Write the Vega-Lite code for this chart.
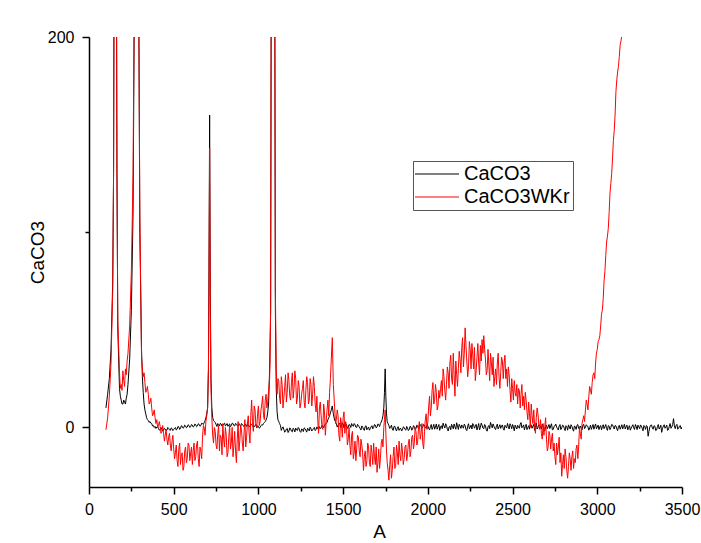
{
  "$schema": "https://vega.github.io/schema/vega-lite/v6.json",
  "width": 593,
  "height": 450,
  "autosize": "none",
  "padding": {"left": 89, "top": 37, "right": 19, "bottom": 56},
  "background": "white",
  "config": {
    "view": {"stroke": null},
    "font": "Liberation Sans",
    "axis": {
      "domainColor": "black", "domainWidth": 1.5, "tickColor": "black", "tickWidth": 1.5,
      "labelColor": "black", "labelFont": "Liberation Sans", "labelFontSize": 16,
      "titleFont": "Liberation Sans", "titleFontSize": 19, "titleFontWeight": "normal", "titleColor": "black",
      "grid": false
    }
  },
  "data": {"values": [
    {"A":100,"CaCO3":10,"CaCO3WKr":-1.2},
    {"A":110,"CaCO3":17,"CaCO3WKr":5},
    {"A":120,"CaCO3":25,"CaCO3WKr":16},
    {"A":130,"CaCO3":40,"CaCO3WKr":33},
    {"A":140,"CaCO3":75,"CaCO3WKr":70},
    {"A":145,"CaCO3":130,"CaCO3WKr":130},
    {"A":150,"CaCO3":300,"CaCO3WKr":300},
    {"A":155,"CaCO3":420,"CaCO3WKr":420},
    {"A":160,"CaCO3":300,"CaCO3WKr":300},
    {"A":165,"CaCO3":130,"CaCO3WKr":130},
    {"A":170,"CaCO3":50,"CaCO3WKr":55},
    {"A":180,"CaCO3":20,"CaCO3WKr":28},
    {"A":185,"CaCO3":16,"CaCO3WKr":20},
    {"A":190,"CaCO3":14,"CaCO3WKr":22},
    {"A":195,"CaCO3":12,"CaCO3WKr":19},
    {"A":200,"CaCO3":12,"CaCO3WKr":29},
    {"A":205,"CaCO3":14,"CaCO3WKr":24},
    {"A":210,"CaCO3":13,"CaCO3WKr":21},
    {"A":215,"CaCO3":12,"CaCO3WKr":30},
    {"A":220,"CaCO3":15,"CaCO3WKr":27},
    {"A":225,"CaCO3":17,"CaCO3WKr":34},
    {"A":230,"CaCO3":22,"CaCO3WKr":38},
    {"A":240,"CaCO3":35,"CaCO3WKr":52},
    {"A":250,"CaCO3":60,"CaCO3WKr":80},
    {"A":260,"CaCO3":110,"CaCO3WKr":130},
    {"A":270,"CaCO3":250,"CaCO3WKr":260},
    {"A":275,"CaCO3":400,"CaCO3WKr":400},
    {"A":281,"CaCO3":500,"CaCO3WKr":500},
    {"A":287,"CaCO3":400,"CaCO3WKr":400},
    {"A":292,"CaCO3":250,"CaCO3WKr":250},
    {"A":300,"CaCO3":100,"CaCO3WKr":110},
    {"A":310,"CaCO3":40,"CaCO3WKr":36},
    {"A":315,"CaCO3":26,"CaCO3WKr":30},
    {"A":320,"CaCO3":18,"CaCO3WKr":26},
    {"A":325,"CaCO3":12,"CaCO3WKr":28},
    {"A":330,"CaCO3":9,"CaCO3WKr":23},
    {"A":335,"CaCO3":7,"CaCO3WKr":18},
    {"A":340,"CaCO3":5,"CaCO3WKr":19},
    {"A":345,"CaCO3":4,"CaCO3WKr":21},
    {"A":350,"CaCO3":3.5,"CaCO3WKr":17},
    {"A":355,"CaCO3":2.6,"CaCO3WKr":12},
    {"A":360,"CaCO3":3,"CaCO3WKr":13},
    {"A":365,"CaCO3":2.2,"CaCO3WKr":15},
    {"A":370,"CaCO3":2,"CaCO3WKr":10},
    {"A":375,"CaCO3":0.8,"CaCO3WKr":6},
    {"A":380,"CaCO3":1,"CaCO3WKr":7},
    {"A":385,"CaCO3":0,"CaCO3WKr":9},
    {"A":390,"CaCO3":0.5,"CaCO3WKr":5},
    {"A":395,"CaCO3":-0.5,"CaCO3WKr":2},
    {"A":400,"CaCO3":0.2,"CaCO3WKr":4},
    {"A":410,"CaCO3":-0.5,"CaCO3WKr":1},
    {"A":420,"CaCO3":-1,"CaCO3WKr":0.5},
    {"A":430,"CaCO3":-0.8,"CaCO3WKr":-2},
    {"A":440,"CaCO3":-1.5,"CaCO3WKr":-3},
    {"A":450,"CaCO3":-0.8,"CaCO3WKr":-4},
    {"A":460,"CaCO3":-1.3,"CaCO3WKr":-6},
    {"A":470,"CaCO3":-0.5,"CaCO3WKr":-5},
    {"A":480,"CaCO3":-1.5,"CaCO3WKr":-9},
    {"A":490,"CaCO3":-0.6,"CaCO3WKr":-7},
    {"A":500,"CaCO3":-1,"CaCO3WKr":-11},
    {"A":510,"CaCO3":0,"CaCO3WKr":-13},
    {"A":520,"CaCO3":-0.9,"CaCO3WKr":-17},
    {"A":530,"CaCO3":0.3,"CaCO3WKr":-11},
    {"A":540,"CaCO3":-0.5,"CaCO3WKr":-19},
    {"A":550,"CaCO3":0.6,"CaCO3WKr":-13},
    {"A":560,"CaCO3":0,"CaCO3WKr":-20},
    {"A":570,"CaCO3":0.8,"CaCO3WKr":-10},
    {"A":580,"CaCO3":0.2,"CaCO3WKr":-16},
    {"A":590,"CaCO3":1,"CaCO3WKr":-9},
    {"A":600,"CaCO3":0.4,"CaCO3WKr":-13},
    {"A":610,"CaCO3":1.2,"CaCO3WKr":-19},
    {"A":620,"CaCO3":0.6,"CaCO3WKr":-8},
    {"A":630,"CaCO3":1.4,"CaCO3WKr":-15},
    {"A":640,"CaCO3":0.8,"CaCO3WKr":-7},
    {"A":650,"CaCO3":1.6,"CaCO3WKr":-20},
    {"A":660,"CaCO3":1,"CaCO3WKr":-12},
    {"A":670,"CaCO3":2,"CaCO3WKr":-5},
    {"A":680,"CaCO3":2.5,"CaCO3WKr":0},
    {"A":690,"CaCO3":5,"CaCO3WKr":3},
    {"A":700,"CaCO3":10,"CaCO3WKr":10},
    {"A":705,"CaCO3":30,"CaCO3WKr":30},
    {"A":708,"CaCO3":80,"CaCO3WKr":70},
    {"A":712,"CaCO3":160,"CaCO3WKr":143},
    {"A":716,"CaCO3":70,"CaCO3WKr":60},
    {"A":720,"CaCO3":25,"CaCO3WKr":20},
    {"A":725,"CaCO3":10,"CaCO3WKr":5},
    {"A":730,"CaCO3":5,"CaCO3WKr":-4},
    {"A":740,"CaCO3":3,"CaCO3WKr":0},
    {"A":750,"CaCO3":1.5,"CaCO3WKr":-9},
    {"A":760,"CaCO3":2,"CaCO3WKr":-3},
    {"A":770,"CaCO3":0.8,"CaCO3WKr":-12},
    {"A":780,"CaCO3":1.8,"CaCO3WKr":-5},
    {"A":790,"CaCO3":1,"CaCO3WKr":2},
    {"A":800,"CaCO3":2.2,"CaCO3WKr":-10},
    {"A":810,"CaCO3":1.2,"CaCO3WKr":-4},
    {"A":820,"CaCO3":0.6,"CaCO3WKr":-13},
    {"A":830,"CaCO3":1.8,"CaCO3WKr":1},
    {"A":840,"CaCO3":1,"CaCO3WKr":-8},
    {"A":850,"CaCO3":2,"CaCO3WKr":-15},
    {"A":860,"CaCO3":0.8,"CaCO3WKr":-2},
    {"A":870,"CaCO3":1.6,"CaCO3WKr":-18},
    {"A":880,"CaCO3":0.6,"CaCO3WKr":3},
    {"A":890,"CaCO3":1.4,"CaCO3WKr":-7},
    {"A":900,"CaCO3":2,"CaCO3WKr":-1},
    {"A":910,"CaCO3":1,"CaCO3WKr":-12},
    {"A":920,"CaCO3":1.8,"CaCO3WKr":4},
    {"A":930,"CaCO3":0.5,"CaCO3WKr":-5},
    {"A":940,"CaCO3":1.2,"CaCO3WKr":6},
    {"A":950,"CaCO3":0.4,"CaCO3WKr":-8},
    {"A":960,"CaCO3":1.5,"CaCO3WKr":14},
    {"A":970,"CaCO3":0.2,"CaCO3WKr":-2},
    {"A":980,"CaCO3":1,"CaCO3WKr":9},
    {"A":990,"CaCO3":-0.3,"CaCO3WKr":0},
    {"A":1000,"CaCO3":0.6,"CaCO3WKr":11},
    {"A":1010,"CaCO3":0,"CaCO3WKr":3},
    {"A":1020,"CaCO3":1.5,"CaCO3WKr":12},
    {"A":1030,"CaCO3":2,"CaCO3WKr":6},
    {"A":1040,"CaCO3":3,"CaCO3WKr":14},
    {"A":1050,"CaCO3":5,"CaCO3WKr":10},
    {"A":1060,"CaCO3":12,"CaCO3WKr":19},
    {"A":1066,"CaCO3":30,"CaCO3WKr":25},
    {"A":1069,"CaCO3":45,"CaCO3WKr":35},
    {"A":1072,"CaCO3":60,"CaCO3WKr":60},
    {"A":1075,"CaCO3":200,"CaCO3WKr":200},
    {"A":1080,"CaCO3":350,"CaCO3WKr":350},
    {"A":1086,"CaCO3":600,"CaCO3WKr":600},
    {"A":1092,"CaCO3":350,"CaCO3WKr":350},
    {"A":1097,"CaCO3":200,"CaCO3WKr":200},
    {"A":1100,"CaCO3":60,"CaCO3WKr":70},
    {"A":1105,"CaCO3":20,"CaCO3WKr":30},
    {"A":1110,"CaCO3":8,"CaCO3WKr":17},
    {"A":1120,"CaCO3":3,"CaCO3WKr":24},
    {"A":1130,"CaCO3":1,"CaCO3WKr":12},
    {"A":1140,"CaCO3":-0.5,"CaCO3WKr":22},
    {"A":1150,"CaCO3":-1,"CaCO3WKr":15},
    {"A":1160,"CaCO3":-2,"CaCO3WKr":27},
    {"A":1170,"CaCO3":-0.5,"CaCO3WKr":18},
    {"A":1180,"CaCO3":-1.8,"CaCO3WKr":24},
    {"A":1190,"CaCO3":-0.8,"CaCO3WKr":14},
    {"A":1200,"CaCO3":-2.2,"CaCO3WKr":28},
    {"A":1210,"CaCO3":-1,"CaCO3WKr":20},
    {"A":1220,"CaCO3":-0.3,"CaCO3WKr":25},
    {"A":1230,"CaCO3":-1.6,"CaCO3WKr":15},
    {"A":1240,"CaCO3":-0.6,"CaCO3WKr":21},
    {"A":1250,"CaCO3":-2.5,"CaCO3WKr":12},
    {"A":1260,"CaCO3":-1,"CaCO3WKr":20},
    {"A":1270,"CaCO3":-0.2,"CaCO3WKr":13},
    {"A":1280,"CaCO3":-1.4,"CaCO3WKr":19},
    {"A":1290,"CaCO3":-0.4,"CaCO3WKr":23},
    {"A":1300,"CaCO3":-1.8,"CaCO3WKr":14},
    {"A":1310,"CaCO3":-0.6,"CaCO3WKr":22},
    {"A":1320,"CaCO3":-1.2,"CaCO3WKr":17},
    {"A":1330,"CaCO3":0,"CaCO3WKr":21},
    {"A":1340,"CaCO3":-1,"CaCO3WKr":8},
    {"A":1350,"CaCO3":-0.5,"CaCO3WKr":4},
    {"A":1360,"CaCO3":0.4,"CaCO3WKr":10},
    {"A":1370,"CaCO3":-0.2,"CaCO3WKr":6},
    {"A":1380,"CaCO3":0.8,"CaCO3WKr":-1},
    {"A":1390,"CaCO3":1,"CaCO3WKr":8},
    {"A":1400,"CaCO3":2,"CaCO3WKr":3},
    {"A":1410,"CaCO3":4,"CaCO3WKr":14},
    {"A":1420,"CaCO3":6,"CaCO3WKr":18},
    {"A":1430,"CaCO3":9,"CaCO3WKr":35},
    {"A":1436,"CaCO3":11,"CaCO3WKr":46},
    {"A":1442,"CaCO3":7,"CaCO3WKr":22},
    {"A":1450,"CaCO3":3.5,"CaCO3WKr":10},
    {"A":1460,"CaCO3":2,"CaCO3WKr":4},
    {"A":1470,"CaCO3":1,"CaCO3WKr":6},
    {"A":1480,"CaCO3":2,"CaCO3WKr":-7},
    {"A":1490,"CaCO3":0.8,"CaCO3WKr":2},
    {"A":1500,"CaCO3":1.8,"CaCO3WKr":5},
    {"A":1510,"CaCO3":0.4,"CaCO3WKr":-3},
    {"A":1520,"CaCO3":1.5,"CaCO3WKr":0},
    {"A":1530,"CaCO3":0.2,"CaCO3WKr":-6},
    {"A":1540,"CaCO3":1.2,"CaCO3WKr":-9},
    {"A":1550,"CaCO3":2,"CaCO3WKr":-4},
    {"A":1560,"CaCO3":0.6,"CaCO3WKr":-16},
    {"A":1570,"CaCO3":1.4,"CaCO3WKr":-7},
    {"A":1580,"CaCO3":0,"CaCO3WKr":-11},
    {"A":1590,"CaCO3":1,"CaCO3WKr":-5},
    {"A":1600,"CaCO3":-0.5,"CaCO3WKr":-15},
    {"A":1610,"CaCO3":0.8,"CaCO3WKr":-9},
    {"A":1620,"CaCO3":-0.8,"CaCO3WKr":-22},
    {"A":1630,"CaCO3":0.5,"CaCO3WKr":-12},
    {"A":1640,"CaCO3":-1.2,"CaCO3WKr":-17},
    {"A":1650,"CaCO3":0.2,"CaCO3WKr":-10},
    {"A":1660,"CaCO3":-0.6,"CaCO3WKr":-20},
    {"A":1670,"CaCO3":0.9,"CaCO3WKr":-13},
    {"A":1680,"CaCO3":0,"CaCO3WKr":-8},
    {"A":1690,"CaCO3":1.2,"CaCO3WKr":-19},
    {"A":1700,"CaCO3":0.3,"CaCO3WKr":-23},
    {"A":1710,"CaCO3":1.5,"CaCO3WKr":-11},
    {"A":1720,"CaCO3":2,"CaCO3WKr":-16},
    {"A":1730,"CaCO3":4,"CaCO3WKr":-6},
    {"A":1740,"CaCO3":10,"CaCO3WKr":0},
    {"A":1744,"CaCO3":18,"CaCO3WKr":4},
    {"A":1748,"CaCO3":30,"CaCO3WKr":9},
    {"A":1752,"CaCO3":16,"CaCO3WKr":-3},
    {"A":1756,"CaCO3":7,"CaCO3WKr":-12},
    {"A":1760,"CaCO3":3,"CaCO3WKr":-18},
    {"A":1770,"CaCO3":1,"CaCO3WKr":-27},
    {"A":1780,"CaCO3":0,"CaCO3WKr":-14},
    {"A":1790,"CaCO3":-0.8,"CaCO3WKr":-22},
    {"A":1800,"CaCO3":0.5,"CaCO3WKr":-10},
    {"A":1810,"CaCO3":-1,"CaCO3WKr":-20},
    {"A":1820,"CaCO3":-0.2,"CaCO3WKr":-13},
    {"A":1830,"CaCO3":-1.5,"CaCO3WKr":-7},
    {"A":1840,"CaCO3":-0.5,"CaCO3WKr":-17},
    {"A":1850,"CaCO3":-1.2,"CaCO3WKr":-12},
    {"A":1860,"CaCO3":0,"CaCO3WKr":-16},
    {"A":1870,"CaCO3":-1.4,"CaCO3WKr":-9},
    {"A":1880,"CaCO3":-0.3,"CaCO3WKr":-14},
    {"A":1890,"CaCO3":-1,"CaCO3WKr":-6},
    {"A":1900,"CaCO3":0.2,"CaCO3WKr":-12},
    {"A":1910,"CaCO3":-0.8,"CaCO3WKr":-4},
    {"A":1920,"CaCO3":0.5,"CaCO3WKr":-8},
    {"A":1930,"CaCO3":-0.5,"CaCO3WKr":-2},
    {"A":1940,"CaCO3":0.8,"CaCO3WKr":-7},
    {"A":1950,"CaCO3":0,"CaCO3WKr":3},
    {"A":1960,"CaCO3":1,"CaCO3WKr":-3},
    {"A":1970,"CaCO3":0.2,"CaCO3WKr":-8},
    {"A":1980,"CaCO3":1.2,"CaCO3WKr":-2},
    {"A":1990,"CaCO3":-0.5,"CaCO3WKr":7},
    {"A":2000,"CaCO3":0.8,"CaCO3WKr":3},
    {"A":2010,"CaCO3":-1.2,"CaCO3WKr":16},
    {"A":2020,"CaCO3":1.5,"CaCO3WKr":10},
    {"A":2030,"CaCO3":0.1,"CaCO3WKr":23},
    {"A":2040,"CaCO3":-0.9,"CaCO3WKr":14},
    {"A":2050,"CaCO3":1.8,"CaCO3WKr":18},
    {"A":2060,"CaCO3":0.4,"CaCO3WKr":11},
    {"A":2070,"CaCO3":-1.5,"CaCO3WKr":15},
    {"A":2080,"CaCO3":0.9,"CaCO3WKr":24},
    {"A":2090,"CaCO3":2.2,"CaCO3WKr":30},
    {"A":2100,"CaCO3":-0.3,"CaCO3WKr":19},
    {"A":2110,"CaCO3":1.1,"CaCO3WKr":22},
    {"A":2120,"CaCO3":-1.8,"CaCO3WKr":28},
    {"A":2130,"CaCO3":0.6,"CaCO3WKr":33},
    {"A":2140,"CaCO3":1.6,"CaCO3WKr":25},
    {"A":2150,"CaCO3":-0.7,"CaCO3WKr":38},
    {"A":2160,"CaCO3":0.3,"CaCO3WKr":16},
    {"A":2170,"CaCO3":2.4,"CaCO3WKr":27},
    {"A":2180,"CaCO3":-1,"CaCO3WKr":30},
    {"A":2190,"CaCO3":0.7,"CaCO3WKr":35},
    {"A":2200,"CaCO3":1.3,"CaCO3WKr":41},
    {"A":2210,"CaCO3":-0.4,"CaCO3WKr":31},
    {"A":2220,"CaCO3":0.9,"CaCO3WKr":51},
    {"A":2230,"CaCO3":-1.6,"CaCO3WKr":34},
    {"A":2240,"CaCO3":1.9,"CaCO3WKr":31},
    {"A":2250,"CaCO3":0.2,"CaCO3WKr":40},
    {"A":2260,"CaCO3":-0.8,"CaCO3WKr":43},
    {"A":2270,"CaCO3":1.4,"CaCO3WKr":30},
    {"A":2280,"CaCO3":0.5,"CaCO3WKr":24},
    {"A":2290,"CaCO3":-1.3,"CaCO3WKr":36},
    {"A":2300,"CaCO3":2,"CaCO3WKr":33},
    {"A":2310,"CaCO3":0,"CaCO3WKr":42},
    {"A":2320,"CaCO3":1.2,"CaCO3WKr":45},
    {"A":2330,"CaCO3":-0.6,"CaCO3WKr":47},
    {"A":2340,"CaCO3":0.8,"CaCO3WKr":35},
    {"A":2350,"CaCO3":-1.9,"CaCO3WKr":29},
    {"A":2360,"CaCO3":1,"CaCO3WKr":32},
    {"A":2370,"CaCO3":2.6,"CaCO3WKr":38},
    {"A":2380,"CaCO3":-0.2,"CaCO3WKr":27},
    {"A":2390,"CaCO3":0.6,"CaCO3WKr":21},
    {"A":2400,"CaCO3":-1.1,"CaCO3WKr":30},
    {"A":2410,"CaCO3":1.7,"CaCO3WKr":33},
    {"A":2420,"CaCO3":0.3,"CaCO3WKr":26},
    {"A":2430,"CaCO3":-0.5,"CaCO3WKr":28},
    {"A":2440,"CaCO3":1.3,"CaCO3WKr":34},
    {"A":2450,"CaCO3":-1.4,"CaCO3WKr":33},
    {"A":2460,"CaCO3":0.4,"CaCO3WKr":25},
    {"A":2470,"CaCO3":2.1,"CaCO3WKr":21},
    {"A":2480,"CaCO3":-0.8,"CaCO3WKr":27},
    {"A":2490,"CaCO3":0.9,"CaCO3WKr":13},
    {"A":2500,"CaCO3":1.5,"CaCO3WKr":20},
    {"A":2510,"CaCO3":-1.7,"CaCO3WKr":24},
    {"A":2520,"CaCO3":0.2,"CaCO3WKr":16},
    {"A":2530,"CaCO3":1.1,"CaCO3WKr":12},
    {"A":2540,"CaCO3":-0.4,"CaCO3WKr":19},
    {"A":2550,"CaCO3":2.5,"CaCO3WKr":17},
    {"A":2560,"CaCO3":0.5,"CaCO3WKr":11},
    {"A":2570,"CaCO3":-1.2,"CaCO3WKr":9},
    {"A":2580,"CaCO3":1.6,"CaCO3WKr":14},
    {"A":2590,"CaCO3":0,"CaCO3WKr":4},
    {"A":2600,"CaCO3":-0.9,"CaCO3WKr":7},
    {"A":2610,"CaCO3":1.4,"CaCO3WKr":12},
    {"A":2620,"CaCO3":0.7,"CaCO3WKr":2},
    {"A":2630,"CaCO3":-1.5,"CaCO3WKr":0.5},
    {"A":2640,"CaCO3":2.3,"CaCO3WKr":5},
    {"A":2650,"CaCO3":0.1,"CaCO3WKr":7},
    {"A":2660,"CaCO3":1,"CaCO3WKr":-1},
    {"A":2670,"CaCO3":-0.7,"CaCO3WKr":-3},
    {"A":2680,"CaCO3":0.6,"CaCO3WKr":2},
    {"A":2690,"CaCO3":-1.8,"CaCO3WKr":0.5},
    {"A":2700,"CaCO3":1.2,"CaCO3WKr":-6},
    {"A":2710,"CaCO3":0.3,"CaCO3WKr":-10},
    {"A":2720,"CaCO3":-0.6,"CaCO3WKr":-4},
    {"A":2730,"CaCO3":1.9,"CaCO3WKr":-6},
    {"A":2740,"CaCO3":-1,"CaCO3WKr":-12},
    {"A":2750,"CaCO3":0.8,"CaCO3WKr":-15},
    {"A":2760,"CaCO3":0.2,"CaCO3WKr":-8},
    {"A":2770,"CaCO3":-1.3,"CaCO3WKr":-10},
    {"A":2780,"CaCO3":1.5,"CaCO3WKr":-18},
    {"A":2790,"CaCO3":-0.2,"CaCO3WKr":-25},
    {"A":2800,"CaCO3":0.9,"CaCO3WKr":-14},
    {"A":2810,"CaCO3":-1.6,"CaCO3WKr":-11},
    {"A":2820,"CaCO3":0.4,"CaCO3WKr":-22},
    {"A":2830,"CaCO3":1.3,"CaCO3WKr":-20},
    {"A":2840,"CaCO3":-0.8,"CaCO3WKr":-16},
    {"A":2850,"CaCO3":0.6,"CaCO3WKr":-15},
    {"A":2860,"CaCO3":-1.9,"CaCO3WKr":-21},
    {"A":2870,"CaCO3":0.2,"CaCO3WKr":-18},
    {"A":2880,"CaCO3":1.1,"CaCO3WKr":-9},
    {"A":2890,"CaCO3":-0.5,"CaCO3WKr":-10},
    {"A":2900,"CaCO3":0.7,"CaCO3WKr":-3},
    {"A":2910,"CaCO3":-1.2,"CaCO3WKr":2},
    {"A":2920,"CaCO3":1.6,"CaCO3WKr":6},
    {"A":2930,"CaCO3":0,"CaCO3WKr":9},
    {"A":2940,"CaCO3":0.9,"CaCO3WKr":12},
    {"A":2950,"CaCO3":-1.4,"CaCO3WKr":16},
    {"A":2960,"CaCO3":1.2,"CaCO3WKr":19},
    {"A":2970,"CaCO3":0.3,"CaCO3WKr":23},
    {"A":2980,"CaCO3":-0.9,"CaCO3WKr":28},
    {"A":2990,"CaCO3":1.8,"CaCO3WKr":33},
    {"A":3000,"CaCO3":0.1,"CaCO3WKr":40},
    {"A":3010,"CaCO3":-1.1,"CaCO3WKr":45},
    {"A":3020,"CaCO3":1,"CaCO3WKr":52},
    {"A":3030,"CaCO3":0.4,"CaCO3WKr":60},
    {"A":3040,"CaCO3":-0.6,"CaCO3WKr":75},
    {"A":3050,"CaCO3":1.5,"CaCO3WKr":88},
    {"A":3060,"CaCO3":-1.5,"CaCO3WKr":98},
    {"A":3070,"CaCO3":0.6,"CaCO3WKr":110},
    {"A":3080,"CaCO3":0,"CaCO3WKr":125},
    {"A":3090,"CaCO3":1.3,"CaCO3WKr":138},
    {"A":3100,"CaCO3":-0.8,"CaCO3WKr":152},
    {"A":3110,"CaCO3":0.8,"CaCO3WKr":172},
    {"A":3120,"CaCO3":-1.6,"CaCO3WKr":182},
    {"A":3130,"CaCO3":1.1,"CaCO3WKr":190},
    {"A":3140,"CaCO3":0.2,"CaCO3WKr":198},
    {"A":3150,"CaCO3":-0.7,"CaCO3WKr":207},
    {"A":3160,"CaCO3":1.6,"CaCO3WKr":220},
    {"A":3170,"CaCO3":0.3},
    {"A":3180,"CaCO3":-1.2},
    {"A":3190,"CaCO3":0.9},
    {"A":3200,"CaCO3":-0.3},
    {"A":3210,"CaCO3":1.4},
    {"A":3220,"CaCO3":-1},
    {"A":3230,"CaCO3":0.5},
    {"A":3240,"CaCO3":1.2},
    {"A":3250,"CaCO3":-0.6},
    {"A":3260,"CaCO3":0.7},
    {"A":3270,"CaCO3":-1.7},
    {"A":3280,"CaCO3":0.4},
    {"A":3290,"CaCO3":1},
    {"A":3300,"CaCO3":-4.5},
    {"A":3310,"CaCO3":0.2},
    {"A":3320,"CaCO3":1.3},
    {"A":3330,"CaCO3":-0.9},
    {"A":3340,"CaCO3":0.6},
    {"A":3350,"CaCO3":-1.3},
    {"A":3360,"CaCO3":1.5},
    {"A":3370,"CaCO3":0},
    {"A":3380,"CaCO3":-2.5},
    {"A":3390,"CaCO3":0.8},
    {"A":3400,"CaCO3":-0.4},
    {"A":3410,"CaCO3":1.2},
    {"A":3420,"CaCO3":-1.1},
    {"A":3430,"CaCO3":2},
    {"A":3440,"CaCO3":0.3},
    {"A":3450,"CaCO3":4.5},
    {"A":3460,"CaCO3":-0.6},
    {"A":3470,"CaCO3":1.6},
    {"A":3480,"CaCO3":-0.5},
    {"A":3490,"CaCO3":1},
    {"A":3500,"CaCO3":0.2},
    {"A":405,"CaCO3":0.6,"CaCO3WKr":0},
    {"A":415,"CaCO3":-1.4,"CaCO3WKr":3},
    {"A":425,"CaCO3":0,"CaCO3WKr":-3},
    {"A":435,"CaCO3":-1.8,"CaCO3WKr":1},
    {"A":445,"CaCO3":-0.4,"CaCO3WKr":-7},
    {"A":455,"CaCO3":-1.6,"CaCO3WKr":-1},
    {"A":465,"CaCO3":0,"CaCO3WKr":-9},
    {"A":475,"CaCO3":-1.2,"CaCO3WKr":-3},
    {"A":485,"CaCO3":-0.2,"CaCO3WKr":-12},
    {"A":495,"CaCO3":-1.6,"CaCO3WKr":-4},
    {"A":505,"CaCO3":-0.4,"CaCO3WKr":-16},
    {"A":515,"CaCO3":-1.3,"CaCO3WKr":-9},
    {"A":525,"CaCO3":0.5,"CaCO3WKr":-20},
    {"A":535,"CaCO3":-1,"CaCO3WKr":-8},
    {"A":545,"CaCO3":0.9,"CaCO3WKr":-14},
    {"A":555,"CaCO3":-0.4,"CaCO3WKr":-22},
    {"A":565,"CaCO3":1.2,"CaCO3WKr":-12},
    {"A":575,"CaCO3":-0.2,"CaCO3WKr":-18},
    {"A":585,"CaCO3":1.4,"CaCO3WKr":-8},
    {"A":595,"CaCO3":0,"CaCO3WKr":-17},
    {"A":605,"CaCO3":1.5,"CaCO3WKr":-10},
    {"A":615,"CaCO3":0.2,"CaCO3WKr":-12},
    {"A":625,"CaCO3":1.8,"CaCO3WKr":-17},
    {"A":635,"CaCO3":0.4,"CaCO3WKr":-9},
    {"A":645,"CaCO3":1.9,"CaCO3WKr":-16},
    {"A":655,"CaCO3":0.6,"CaCO3WKr":-10},
    {"A":665,"CaCO3":2.2,"CaCO3WKr":-16},
    {"A":675,"CaCO3":1.5,"CaCO3WKr":1},
    {"A":685,"CaCO3":3.5,"CaCO3WKr":-4},
    {"A":695,"CaCO3":7,"CaCO3WKr":6},
    {"A":735,"CaCO3":3.5,"CaCO3WKr":-8},
    {"A":745,"CaCO3":2.6,"CaCO3WKr":-2},
    {"A":755,"CaCO3":0.5,"CaCO3WKr":-11},
    {"A":765,"CaCO3":1.5,"CaCO3WKr":1},
    {"A":775,"CaCO3":2.1,"CaCO3WKr":-4},
    {"A":785,"CaCO3":0.6,"CaCO3WKr":-14},
    {"A":795,"CaCO3":1.8,"CaCO3WKr":-6},
    {"A":805,"CaCO3":0.8,"CaCO3WKr":0},
    {"A":815,"CaCO3":2,"CaCO3WKr":-15},
    {"A":825,"CaCO3":1.4,"CaCO3WKr":-5},
    {"A":835,"CaCO3":0.4,"CaCO3WKr":-11},
    {"A":845,"CaCO3":2.2,"CaCO3WKr":0},
    {"A":855,"CaCO3":1,"CaCO3WKr":-9},
    {"A":865,"CaCO3":2.1,"CaCO3WKr":-12},
    {"A":875,"CaCO3":0.9,"CaCO3WKr":-6},
    {"A":885,"CaCO3":2,"CaCO3WKr":-12},
    {"A":895,"CaCO3":0.5,"CaCO3WKr":1},
    {"A":905,"CaCO3":1.6,"CaCO3WKr":-8},
    {"A":915,"CaCO3":0.4,"CaCO3WKr":-3},
    {"A":925,"CaCO3":1.3,"CaCO3WKr":-10},
    {"A":935,"CaCO3":2,"CaCO3WKr":2},
    {"A":945,"CaCO3":0.5,"CaCO3WKr":-3},
    {"A":955,"CaCO3":1.8,"CaCO3WKr":6},
    {"A":965,"CaCO3":0.9,"CaCO3WKr":3},
    {"A":975,"CaCO3":0.3,"CaCO3WKr":11},
    {"A":985,"CaCO3":1.6,"CaCO3WKr":1},
    {"A":995,"CaCO3":0.9,"CaCO3WKr":7},
    {"A":1005,"CaCO3":-0.4,"CaCO3WKr":1},
    {"A":1015,"CaCO3":0.9,"CaCO3WKr":9},
    {"A":1025,"CaCO3":1.2,"CaCO3WKr":16},
    {"A":1035,"CaCO3":2.5,"CaCO3WKr":4},
    {"A":1045,"CaCO3":3.8,"CaCO3WKr":17},
    {"A":1055,"CaCO3":8,"CaCO3WKr":13},
    {"A":1115,"CaCO3":4,"CaCO3WKr":25},
    {"A":1125,"CaCO3":2,"CaCO3WKr":15},
    {"A":1135,"CaCO3":-1.5,"CaCO3WKr":26},
    {"A":1145,"CaCO3":0.3,"CaCO3WKr":10},
    {"A":1155,"CaCO3":-2.4,"CaCO3WKr":21},
    {"A":1165,"CaCO3":-0.8,"CaCO3WKr":13},
    {"A":1175,"CaCO3":-2.6,"CaCO3WKr":28},
    {"A":1185,"CaCO3":-0.2,"CaCO3WKr":16},
    {"A":1195,"CaCO3":-1.9,"CaCO3WKr":23},
    {"A":1205,"CaCO3":-0.4,"CaCO3WKr":15},
    {"A":1215,"CaCO3":-2.3,"CaCO3WKr":29},
    {"A":1225,"CaCO3":-1.2,"CaCO3WKr":12},
    {"A":1235,"CaCO3":0,"CaCO3WKr":24},
    {"A":1245,"CaCO3":-2,"CaCO3WKr":10},
    {"A":1255,"CaCO3":-0.8,"CaCO3WKr":17},
    {"A":1265,"CaCO3":-2.1,"CaCO3WKr":24},
    {"A":1275,"CaCO3":-0.6,"CaCO3WKr":10},
    {"A":1285,"CaCO3":-2.4,"CaCO3WKr":26},
    {"A":1295,"CaCO3":-0.9,"CaCO3WKr":12},
    {"A":1305,"CaCO3":0.2,"CaCO3WKr":25},
    {"A":1315,"CaCO3":-1.8,"CaCO3WKr":11},
    {"A":1325,"CaCO3":-0.5,"CaCO3WKr":26},
    {"A":1335,"CaCO3":-1.6,"CaCO3WKr":12},
    {"A":1345,"CaCO3":0.3,"CaCO3WKr":16},
    {"A":1355,"CaCO3":-1.2,"CaCO3WKr":-3},
    {"A":1365,"CaCO3":-0.6,"CaCO3WKr":13},
    {"A":1375,"CaCO3":1,"CaCO3WKr":0},
    {"A":1385,"CaCO3":-0.1,"CaCO3WKr":12},
    {"A":1395,"CaCO3":1.8,"CaCO3WKr":-4},
    {"A":1405,"CaCO3":2.6,"CaCO3WKr":9},
    {"A":1415,"CaCO3":5,"CaCO3WKr":6},
    {"A":1425,"CaCO3":7.5,"CaCO3WKr":25},
    {"A":1455,"CaCO3":3,"CaCO3WKr":2},
    {"A":1465,"CaCO3":0.2,"CaCO3WKr":9},
    {"A":1475,"CaCO3":2.2,"CaCO3WKr":-4},
    {"A":1485,"CaCO3":0,"CaCO3WKr":5},
    {"A":1495,"CaCO3":2.4,"CaCO3WKr":-5},
    {"A":1505,"CaCO3":-0.2,"CaCO3WKr":8},
    {"A":1515,"CaCO3":1.9,"CaCO3WKr":3},
    {"A":1525,"CaCO3":-0.5,"CaCO3WKr":-9},
    {"A":1535,"CaCO3":1.5,"CaCO3WKr":0},
    {"A":1545,"CaCO3":0,"CaCO3WKr":-14},
    {"A":1555,"CaCO3":1,"CaCO3WKr":-2},
    {"A":1565,"CaCO3":2,"CaCO3WKr":-13},
    {"A":1575,"CaCO3":0.2,"CaCO3WKr":-17},
    {"A":1585,"CaCO3":1.6,"CaCO3WKr":-4},
    {"A":1595,"CaCO3":0.3,"CaCO3WKr":-12},
    {"A":1605,"CaCO3":-1.3,"CaCO3WKr":-6},
    {"A":1615,"CaCO3":0.2,"CaCO3WKr":-13},
    {"A":1625,"CaCO3":-1.5,"CaCO3WKr":-15},
    {"A":1635,"CaCO3":0.9,"CaCO3WKr":-20},
    {"A":1645,"CaCO3":-0.4,"CaCO3WKr":-8},
    {"A":1655,"CaCO3":-1.4,"CaCO3WKr":-18},
    {"A":1665,"CaCO3":0.3,"CaCO3WKr":-9},
    {"A":1675,"CaCO3":-0.7,"CaCO3WKr":-19},
    {"A":1685,"CaCO3":1.5,"CaCO3WKr":-15},
    {"A":1695,"CaCO3":-0.2,"CaCO3WKr":-10},
    {"A":1705,"CaCO3":1.8,"CaCO3WKr":-18},
    {"A":1715,"CaCO3":0.5,"CaCO3WKr":-21},
    {"A":1725,"CaCO3":2.8,"CaCO3WKr":-8},
    {"A":1735,"CaCO3":6,"CaCO3WKr":-10},
    {"A":1765,"CaCO3":2,"CaCO3WKr":-22},
    {"A":1775,"CaCO3":-0.5,"CaCO3WKr":-19},
    {"A":1785,"CaCO3":1.2,"CaCO3WKr":-26},
    {"A":1795,"CaCO3":-1.5,"CaCO3WKr":-15},
    {"A":1805,"CaCO3":0.6,"CaCO3WKr":-21},
    {"A":1815,"CaCO3":-1.8,"CaCO3WKr":-9},
    {"A":1825,"CaCO3":0.4,"CaCO3WKr":-19},
    {"A":1835,"CaCO3":-0.6,"CaCO3WKr":-14},
    {"A":1845,"CaCO3":-1.8,"CaCO3WKr":-8},
    {"A":1855,"CaCO3":0.3,"CaCO3WKr":-19},
    {"A":1865,"CaCO3":-1,"CaCO3WKr":-10},
    {"A":1875,"CaCO3":0.5,"CaCO3WKr":-17},
    {"A":1885,"CaCO3":-1.6,"CaCO3WKr":-8},
    {"A":1895,"CaCO3":0.6,"CaCO3WKr":-15},
    {"A":1905,"CaCO3":-1.4,"CaCO3WKr":-5},
    {"A":1915,"CaCO3":0.9,"CaCO3WKr":-11},
    {"A":1925,"CaCO3":-1,"CaCO3WKr":0},
    {"A":1935,"CaCO3":1.2,"CaCO3WKr":-9},
    {"A":1945,"CaCO3":-0.8,"CaCO3WKr":0},
    {"A":1955,"CaCO3":1.4,"CaCO3WKr":-6},
    {"A":1965,"CaCO3":-0.4,"CaCO3WKr":2},
    {"A":1975,"CaCO3":1.6,"CaCO3WKr":-11},
    {"A":1985,"CaCO3":0,"CaCO3WKr":4},
    {"A":1995,"CaCO3":1.4,"CaCO3WKr":-1},
    {"A":2005,"CaCO3":-0.6,"CaCO3WKr":11},
    {"A":2015,"CaCO3":0.4,"CaCO3WKr":6},
    {"A":2025,"CaCO3":-1,"CaCO3WKr":19},
    {"A":2035,"CaCO3":1.6,"CaCO3WKr":12},
    {"A":2045,"CaCO3":0.2,"CaCO3WKr":22},
    {"A":2055,"CaCO3":-0.9,"CaCO3WKr":9},
    {"A":2065,"CaCO3":1.5,"CaCO3WKr":19},
    {"A":2075,"CaCO3":0.3,"CaCO3WKr":20},
    {"A":2085,"CaCO3":-0.6,"CaCO3WKr":16},
    {"A":2095,"CaCO3":0.8,"CaCO3WKr":26},
    {"A":2105,"CaCO3":1.9,"CaCO3WKr":14},
    {"A":2115,"CaCO3":-0.9,"CaCO3WKr":31},
    {"A":2125,"CaCO3":0.2,"CaCO3WKr":20},
    {"A":2135,"CaCO3":-1.2,"CaCO3WKr":37},
    {"A":2145,"CaCO3":0.6,"CaCO3WKr":22},
    {"A":2155,"CaCO3":1.8,"CaCO3WKr":27},
    {"A":2165,"CaCO3":-0.9,"CaCO3WKr":34},
    {"A":2175,"CaCO3":0.8,"CaCO3WKr":21},
    {"A":2185,"CaCO3":1.6,"CaCO3WKr":39},
    {"A":2195,"CaCO3":-0.5,"CaCO3WKr":28},
    {"A":2205,"CaCO3":0.4,"CaCO3WKr":46},
    {"A":2215,"CaCO3":1.7,"CaCO3WKr":38},
    {"A":2225,"CaCO3":-1,"CaCO3WKr":42},
    {"A":2235,"CaCO3":0.6,"CaCO3WKr":26},
    {"A":2245,"CaCO3":-0.7,"CaCO3WKr":44},
    {"A":2255,"CaCO3":1.2,"CaCO3WKr":30},
    {"A":2265,"CaCO3":2,"CaCO3WKr":37},
    {"A":2275,"CaCO3":-0.4,"CaCO3WKr":41},
    {"A":2285,"CaCO3":1.6,"CaCO3WKr":29},
    {"A":2295,"CaCO3":0.2,"CaCO3WKr":43},
    {"A":2305,"CaCO3":-1.2,"CaCO3WKr":27},
    {"A":2315,"CaCO3":2.2,"CaCO3WKr":34},
    {"A":2325,"CaCO3":-0.3,"CaCO3WKr":38},
    {"A":2335,"CaCO3":1.5,"CaCO3WKr":40},
    {"A":2345,"CaCO3":-1.2,"CaCO3WKr":27},
    {"A":2355,"CaCO3":0.3,"CaCO3WKr":40},
    {"A":2365,"CaCO3":-0.6,"CaCO3WKr":24},
    {"A":2375,"CaCO3":1.1,"CaCO3WKr":33},
    {"A":2385,"CaCO3":1.8,"CaCO3WKr":36},
    {"A":2395,"CaCO3":-0.5,"CaCO3WKr":26},
    {"A":2405,"CaCO3":0.9,"CaCO3WKr":22},
    {"A":2415,"CaCO3":-0.8,"CaCO3WKr":38},
    {"A":2425,"CaCO3":1.4,"CaCO3WKr":20},
    {"A":2435,"CaCO3":0.8,"CaCO3WKr":36},
    {"A":2445,"CaCO3":-0.6,"CaCO3WKr":25},
    {"A":2455,"CaCO3":1.1,"CaCO3WKr":37},
    {"A":2465,"CaCO3":-0.3,"CaCO3WKr":30},
    {"A":2475,"CaCO3":0.5,"CaCO3WKr":31},
    {"A":2485,"CaCO3":1.9,"CaCO3WKr":19},
    {"A":2495,"CaCO3":-0.6,"CaCO3WKr":25},
    {"A":2505,"CaCO3":0.4,"CaCO3WKr":14},
    {"A":2515,"CaCO3":1.2,"CaCO3WKr":18},
    {"A":2525,"CaCO3":-0.8,"CaCO3WKr":22},
    {"A":2535,"CaCO3":0.3,"CaCO3WKr":20},
    {"A":2545,"CaCO3":1.7,"CaCO3WKr":10},
    {"A":2555,"CaCO3":-0.2,"CaCO3WKr":22},
    {"A":2565,"CaCO3":1.3,"CaCO3WKr":16},
    {"A":2575,"CaCO3":0.4,"CaCO3WKr":18},
    {"A":2585,"CaCO3":-1.1,"CaCO3WKr":8},
    {"A":2595,"CaCO3":0.9,"CaCO3WKr":13},
    {"A":2605,"CaCO3":1.8,"CaCO3WKr":0},
    {"A":2615,"CaCO3":-0.4,"CaCO3WKr":6},
    {"A":2625,"CaCO3":1.6,"CaCO3WKr":9},
    {"A":2635,"CaCO3":0.2,"CaCO3WKr":-3},
    {"A":2645,"CaCO3":-0.8,"CaCO3WKr":10},
    {"A":2655,"CaCO3":1.4,"CaCO3WKr":1},
    {"A":2665,"CaCO3":0.2,"CaCO3WKr":4},
    {"A":2675,"CaCO3":1.7,"CaCO3WKr":-6},
    {"A":2685,"CaCO3":-0.9,"CaCO3WKr":-4},
    {"A":2695,"CaCO3":0.5,"CaCO3WKr":5},
    {"A":2705,"CaCO3":-0.6,"CaCO3WKr":-12},
    {"A":2715,"CaCO3":1.5,"CaCO3WKr":-2},
    {"A":2725,"CaCO3":0.8,"CaCO3WKr":-11},
    {"A":2735,"CaCO3":-1.2,"CaCO3WKr":-3},
    {"A":2745,"CaCO3":0.6,"CaCO3WKr":-8},
    {"A":2755,"CaCO3":1.7,"CaCO3WKr":-19},
    {"A":2765,"CaCO3":-0.6,"CaCO3WKr":-14},
    {"A":2775,"CaCO3":0.8,"CaCO3WKr":-5},
    {"A":2785,"CaCO3":-1.1,"CaCO3WKr":-13},
    {"A":2795,"CaCO3":1.2,"CaCO3WKr":-19},
    {"A":2805,"CaCO3":-0.4,"CaCO3WKr":-21},
    {"A":2815,"CaCO3":0.9,"CaCO3WKr":-15},
    {"A":2825,"CaCO3":-1.4,"CaCO3WKr":-26},
    {"A":2835,"CaCO3":0.2,"CaCO3WKr":-13},
    {"A":2845,"CaCO3":1.4,"CaCO3WKr":-22},
    {"A":2855,"CaCO3":-0.9,"CaCO3WKr":-12},
    {"A":2865,"CaCO3":0.8,"CaCO3WKr":-16},
    {"A":2875,"CaCO3":-1,"CaCO3WKr":-11},
    {"A":2885,"CaCO3":1.5,"CaCO3WKr":-16},
    {"A":2895,"CaCO3":0.2,"CaCO3WKr":0},
    {"A":2905,"CaCO3":-0.5,"CaCO3WKr":-6},
    {"A":2915,"CaCO3":1.2,"CaCO3WKr":4},
    {"A":2925,"CaCO3":-0.6,"CaCO3WKr":3},
    {"A":2935,"CaCO3":1.4,"CaCO3WKr":14},
    {"A":2945,"CaCO3":0.3,"CaCO3WKr":9},
    {"A":2955,"CaCO3":-0.2,"CaCO3WKr":21},
    {"A":2965,"CaCO3":-1,"CaCO3WKr":17},
    {"A":2975,"CaCO3":1.5,"CaCO3WKr":27},
    {"A":2985,"CaCO3":0.6,"CaCO3WKr":25},
    {"A":2995,"CaCO3":-0.7,"CaCO3WKr":38},
    {"A":3005,"CaCO3":1.2,"CaCO3WKr":44},
    {"A":3015,"CaCO3":0.3,"CaCO3WKr":47},
    {"A":3025,"CaCO3":-1.2,"CaCO3WKr":58},
    {"A":3035,"CaCO3":1.4,"CaCO3WKr":66},
    {"A":3045,"CaCO3":0.4,"CaCO3WKr":80},
    {"A":3055,"CaCO3":-0.6,"CaCO3WKr":95},
    {"A":3065,"CaCO3":1,"CaCO3WKr":102},
    {"A":3075,"CaCO3":-1.1,"CaCO3WKr":120},
    {"A":3085,"CaCO3":1.6,"CaCO3WKr":130},
    {"A":3095,"CaCO3":0.1,"CaCO3WKr":147},
    {"A":3105,"CaCO3":1,"CaCO3WKr":160},
    {"A":3115,"CaCO3":-0.7,"CaCO3WKr":178},
    {"A":3125,"CaCO3":0.5,"CaCO3WKr":185},
    {"A":3135,"CaCO3":-0.9,"CaCO3WKr":196},
    {"A":3145,"CaCO3":1.4,"CaCO3WKr":201},
    {"A":3155,"CaCO3":0.4,"CaCO3WKr":215},
    {"A":3165,"CaCO3":-0.8},
    {"A":3175,"CaCO3":1.2},
    {"A":3185,"CaCO3":0},
    {"A":3195,"CaCO3":-1.4},
    {"A":3205,"CaCO3":0.6},
    {"A":3215,"CaCO3":-0.2},
    {"A":3225,"CaCO3":1.5},
    {"A":3235,"CaCO3":-1.1},
    {"A":3245,"CaCO3":0.3},
    {"A":3255,"CaCO3":1.3},
    {"A":3265,"CaCO3":-0.4},
    {"A":3275,"CaCO3":1},
    {"A":3285,"CaCO3":-1},
    {"A":3295,"CaCO3":0.6},
    {"A":3305,"CaCO3":-2},
    {"A":3315,"CaCO3":1.1},
    {"A":3325,"CaCO3":-0.3},
    {"A":3335,"CaCO3":0.9},
    {"A":3345,"CaCO3":-1.6},
    {"A":3355,"CaCO3":0.4},
    {"A":3365,"CaCO3":-0.8},
    {"A":3375,"CaCO3":1.2},
    {"A":3385,"CaCO3":-0.5},
    {"A":3395,"CaCO3":1.4},
    {"A":3405,"CaCO3":0.2},
    {"A":3415,"CaCO3":-1.5},
    {"A":3425,"CaCO3":0.6},
    {"A":3435,"CaCO3":-0.4},
    {"A":3445,"CaCO3":1.5},
    {"A":3455,"CaCO3":0.8},
    {"A":3465,"CaCO3":1},
    {"A":3475,"CaCO3":-0.9},
    {"A":3485,"CaCO3":0.7},
    {"A":3495,"CaCO3":-0.8}
  ]},
  "transform": [
    {"fold": ["CaCO3", "CaCO3WKr"], "as": ["series", "value"]},
    {"filter": "isValid(datum.value)"}
  ],
  "mark": {"type": "line", "strokeWidth": 1, "clip": true, "interpolate": "linear"},
  "encoding": {
    "x": {
      "field": "A", "type": "quantitative", "title": "A",
      "scale": {"domain": [0, 3500], "nice": false, "zero": false},
      "axis": {
        "values": [0, 250, 500, 750, 1000, 1250, 1500, 1750, 2000, 2250, 2500, 2750, 3000, 3250, 3500],
        "labelExpr": "datum.value % 500 === 0 ? datum.label : ''",
        "format": "d",
        "tickSize": {"condition": {"test": "datum.value % 500 === 0", "value": 7}, "value": 4},
        "labelPadding": 7, "labelFlush": false, "labelOverlap": false,
        "titleX": 290, "titleY": 50, "titleBaseline": "alphabetic", "titleAnchor": "middle", "titleAlign": "center"
      }
    },
    "y": {
      "field": "value", "type": "quantitative", "title": "CaCO3",
      "scale": {"domain": [-30.5, 200], "nice": false, "zero": false},
      "axis": {
        "values": [0, 100, 200],
        "labelExpr": "datum.value === 100 ? '' : datum.label",
        "tickSize": {"condition": {"test": "datum.value === 100", "value": 4}, "value": 7},
        "labelPadding": 8, "labelFlush": false, "labelOverlap": false,
        "titleX": -46, "titleY": 215, "titleAngle": -90, "titleBaseline": "alphabetic", "titleAlign": "center"
      }
    },
    "color": {
      "field": "series", "type": "nominal",
      "scale": {"domain": ["CaCO3", "CaCO3WKr"], "range": ["#000000", "#ff0000"]},
      "legend": {
        "title": null, "orient": "none", "legendX": 324, "legendY": 124,
        "labelFont": "Liberation Sans", "labelFontSize": 20, "labelColor": "black",
        "symbolType": "M-2,0H6", "symbolSize": 121, "symbolStrokeWidth": 1,
        "labelOffset": 28, "padding": 3, "rowPadding": 3,
        "strokeColor": "#555555", "fillColor": "white"
      }
    }
  }
}
